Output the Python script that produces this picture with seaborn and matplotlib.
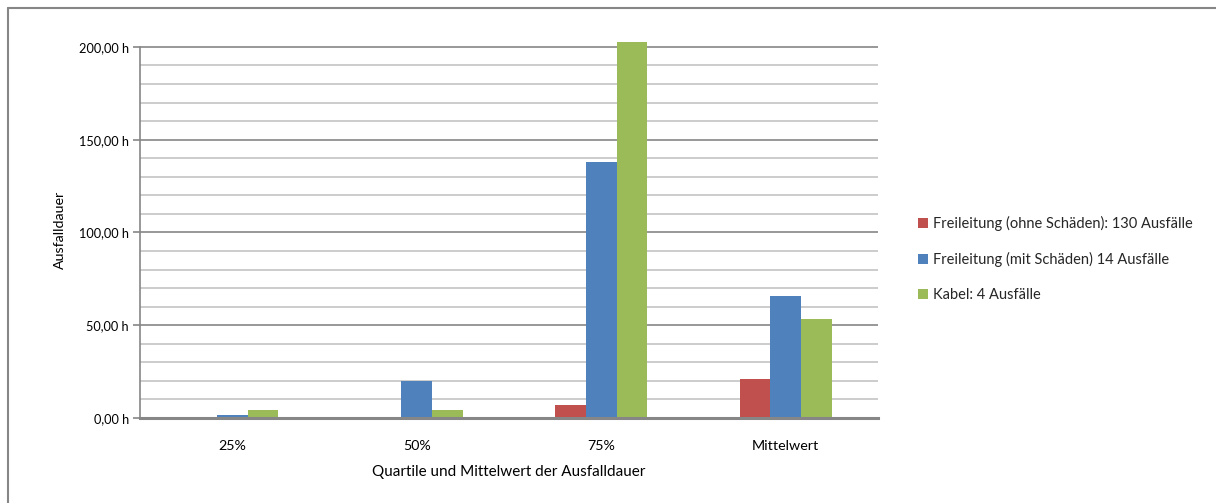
import matplotlib
matplotlib.use("Agg")
import matplotlib.pyplot as plt
from matplotlib.lines import Line2D
from matplotlib.ticker import MultipleLocator, FuncFormatter
import seaborn as sns
import pandas as pd

# Outage duration statistics (hours) per line type
categories = ["25%", "50%", "75%", "Mittelwert"]
series_names = [
    "Freileitung (ohne Schäden): 130 Ausfälle",
    "Freileitung (mit Schäden) 14 Ausfälle",
    "Kabel: 4 Ausfälle",
]
freileitung_ohne = [0.0, 0.7, 7.2, 21.0]
freileitung_mit = [1.8, 20.0, 138.0, 65.8]
kabel = [4.5, 4.5, 202.7, 53.2]
colors = ["#c0504d", "#4f81bd", "#9bbb59"]

rows = []
for name, vals in zip(series_names, [freileitung_ohne, freileitung_mit, kabel]):
    for cat, v in zip(categories, vals):
        rows.append({"Kategorie": cat, "Serie": name, "Wert": v})
df = pd.DataFrame(rows)

sns.set_theme(style="white")
plt.rcParams["font.family"] = ["Lato", "DejaVu Sans"]

fig = plt.figure(figsize=(12.16, 5.03), dpi=100)
ax = fig.add_axes([140 / 1216, 1 - 418 / 503, (878 - 140) / 1216, (418 - 41) / 503])

sns.barplot(data=df, x="Kategorie", y="Wert", hue="Serie", order=categories,
            hue_order=series_names, palette=colors, width=0.5, saturation=1,
            edgecolor="none", ax=ax, legend=True)

ax.set_ylim(0, 203.2)
ax.set_xlim(-0.5, 3.5)

# gridlines: major every 50 h, minor every 10 h
ax.yaxis.set_major_locator(MultipleLocator(50))
ax.yaxis.set_minor_locator(MultipleLocator(10))
ax.yaxis.set_major_formatter(FuncFormatter(lambda v, p: f"{v:.2f}".replace(".", ",") + " h"))
ax.set_axisbelow(True)
for y in range(10, 201, 10):
    if y % 50 == 0:
        ax.axhline(y, color="#868686", lw=1.2, zorder=0)
    else:
        ax.axhline(y, color="#c4c4c4", lw=1.2, zorder=0)

for s in ["top", "right"]:
    ax.spines[s].set_visible(False)
ax.spines["left"].set_bounds(0, 200)
ax.spines["left"].set_color("#868686")
ax.spines["left"].set_linewidth(1.2)
ax.spines["bottom"].set_color("#868686")
ax.spines["bottom"].set_linewidth(2.2)

ax.tick_params(axis="y", which="major", direction="out", length=5, width=1.2,
               color="#868686", left=True, labelsize=9.2, labelcolor="#000000", pad=3)
ax.tick_params(axis="y", which="minor", length=0)
ax.tick_params(axis="x", length=0, labelsize=10.3, labelcolor="#000000", pad=16)

ax.set_xlabel("Quartile und Mittelwert der Ausfalldauer", fontsize=11, color="#000000", labelpad=9)
ax.set_ylabel("Ausfalldauer", fontsize=10.3, color="#000000", labelpad=9)

handles, labels = ax.get_legend_handles_labels()
ax.legend(handles, labels, loc="center left", bbox_to_anchor=(905 / 1216, 1 - 259 / 503),
          bbox_transform=fig.transFigure, frameon=False, fontsize=10.5,
          handlelength=0.7, handleheight=0.7, handletextpad=0.3, labelspacing=1.45)

# chart frame (top and left edges)
fig.add_artist(Line2D([8 / 1216, 1.0], [1 - 8 / 503, 1 - 8 / 503], transform=fig.transFigure,
                      color="#868686", lw=1.5))
fig.add_artist(Line2D([8 / 1216, 8 / 1216], [0.0, 1 - 8 / 503], transform=fig.transFigure,
                      color="#868686", lw=1.5))

fig.savefig("out.png", dpi=100)
